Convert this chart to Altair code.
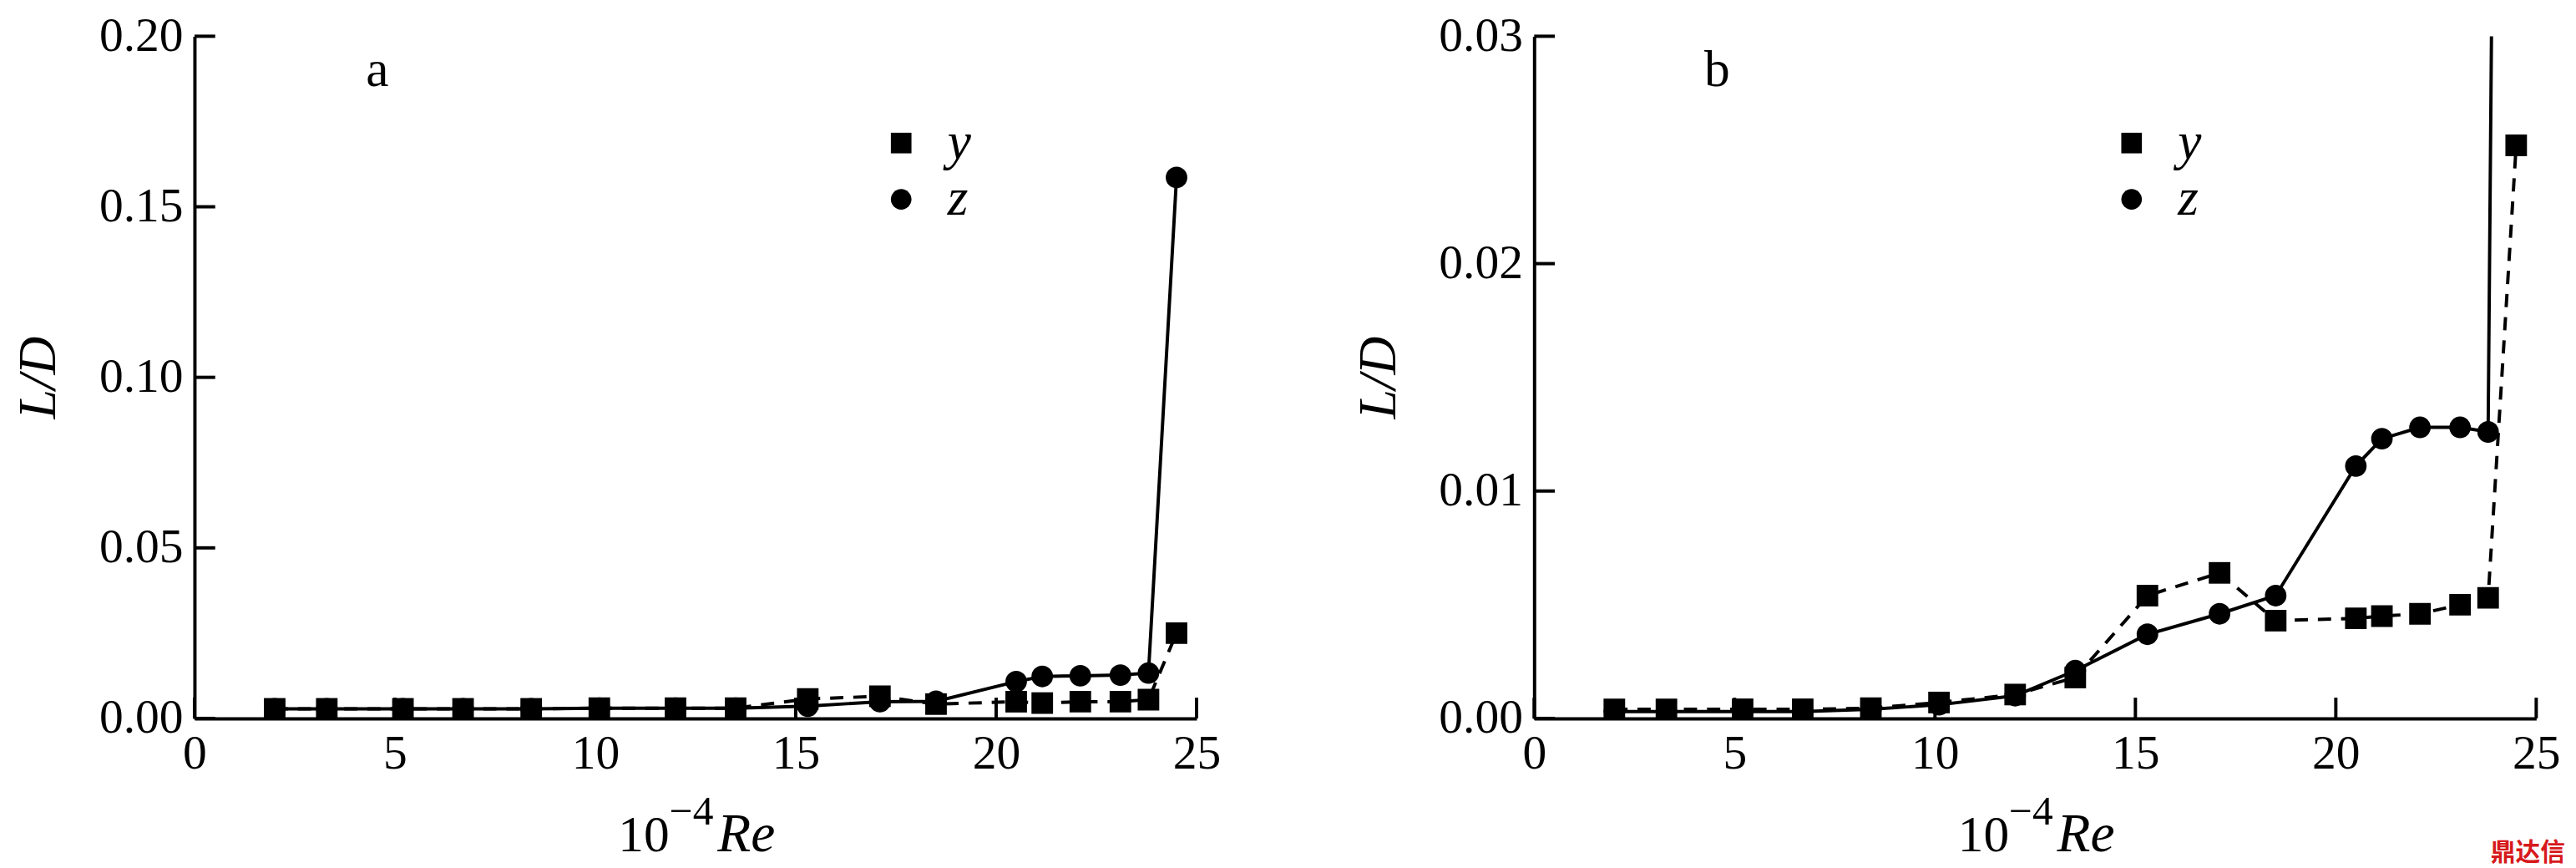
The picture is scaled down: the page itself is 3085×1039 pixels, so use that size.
import altair as alt
import pandas as pd

# ---- data ----
re_values = [2.0, 3.3, 5.2, 6.7, 8.4, 10.1, 12.0, 13.5, 15.3, 17.1, 18.5, 20.5, 21.15, 22.1, 23.1, 23.8, 24.5]

# panel a
a_y = [0.0028, 0.0028, 0.0028, 0.0028, 0.0028, 0.0030, 0.0030, 0.0030, 0.0057, 0.0065, 0.0042,
       0.0049, 0.0045, 0.0049, 0.0049, 0.0055, 0.0250]
a_z = [0.0028, 0.0028, 0.0028, 0.0028, 0.0028, 0.0030, 0.0030, 0.0030, 0.0036, 0.0049, 0.0050,
       0.0108, 0.0123, 0.0125, 0.0127, 0.0133, 0.1586]

# panel b
b_y = [0.0004, 0.0004, 0.0004, 0.0004, 0.00045, 0.0007, 0.00105, 0.0018, 0.0054, 0.0064, 0.0043,
       0.0044, 0.0045, 0.0046, 0.0050, 0.0053, 0.0252]
b_z = [0.0003, 0.0003, 0.0003, 0.0003, 0.0004, 0.0006, 0.0010, 0.0021, 0.0037, 0.0046, 0.0054,
       0.0111, 0.0123, 0.0128, 0.0128, 0.0126, 0.1586]

x_ticks = [0, 5, 10, 15, 20, 25]
a_ticks = [0.0, 0.05, 0.10, 0.15, 0.20]
b_ticks = [0.0, 0.01, 0.02, 0.03]
series_names = ["y", "z"]

FONT = "Liberation Serif"
W, H = 1211, 824


def panel(yv, zv, ymax, yticks, letter, legend_x):
    df = pd.DataFrame({
        "Re": re_values + re_values,
        "LD": yv + zv,
        "series": ["y"] * len(re_values) + ["z"] * len(re_values),
    })
    xs = alt.Scale(domain=[0, 25], nice=False, zero=True)
    ys = alt.Scale(domain=[0, ymax], nice=False, zero=True)

    xax = alt.Axis(values=x_ticks, format="d", labelFont=FONT, labelFontSize=58,
                   labelColor="black", domainColor="black", domainWidth=4, ticks=False,
                   labelPadding=14, grid=False, title=None, labelFlush=False)
    yax = alt.Axis(values=yticks, format=".2f", labelFont=FONT, labelFontSize=58,
                   labelColor="black", domainColor="black", domainWidth=4, ticks=False,
                   labelPadding=14, grid=False, title="L/D", titleFont=FONT,
                   titleFontSize=64, titleFontStyle="italic", titleFontWeight="normal",
                   titleColor="black", titlePadding=40, labelFlush=False)

    X = alt.X("Re:Q", scale=xs, axis=xax)
    Y = alt.Y("LD:Q", scale=ys, axis=yax)

    base = alt.Chart(df)
    line_y = base.transform_filter(alt.datum.series == "y").mark_line(
        color="black", strokeWidth=4, strokeDash=[16, 12], clip=True).encode(x=X, y=Y)
    line_z = base.transform_filter(alt.datum.series == "z").mark_line(
        color="black", strokeWidth=4, clip=True).encode(x=X, y=Y)
    points = base.mark_point(filled=True, color="black", opacity=1, clip=True,
                             size=680).encode(
        x=X, y=Y,
        shape=alt.Shape("series:N",
                        scale=alt.Scale(domain=series_names, range=["square", "circle"]),
                        legend=alt.Legend(orient="none", legendX=legend_x, legendY=97,
                                          title=None, padding=0, symbolSize=620,
                                          symbolFillColor="black", symbolStrokeColor="black",
                                          symbolStrokeWidth=0,
                                          labelFont=FONT, labelFontSize=64,
                                          labelFontStyle="italic", labelColor="black",
                                          labelOffset=24, rowPadding=4)),
    )

    xt = pd.DataFrame({"Re": x_ticks, "LD": [0.0] * len(x_ticks)})
    yt = pd.DataFrame({"Re": [0.0] * len(yticks), "LD": yticks})
    xtick_marks = alt.Chart(xt).mark_tick(orient="vertical", size=25, thickness=4,
                                          color="black", yOffset=-12.5, opacity=1).encode(
        x=X, y=Y)
    ytick_marks = alt.Chart(yt).mark_tick(orient="horizontal", size=25, thickness=4,
                                          color="black", xOffset=12.5, opacity=1).encode(
        x=X, y=Y)

    def txt(s, x, y, size, style="normal", align="left"):
        return alt.Chart(pd.DataFrame({"t": [s]})).mark_text(
            font=FONT, fontSize=size, fontStyle=style, align=align, baseline="alphabetic",
            color="black").encode(text="t:N", x=alt.value(x), y=alt.value(y))

    label = txt(letter, 221, 60, 62, align="center")
    t10 = txt("10", 512, 985, 62)
    tsup = txt("\u22124", 574, 952, 50)
    tre = txt("Re", 632, 985, 66, style="italic")

    return alt.layer(line_y, line_z, points, xtick_marks, ytick_marks,
                     label, t10, tsup, tre).properties(width=W, height=H)


pa = panel(a_y, a_z, 0.20, a_ticks, "a", 822)
pb = panel(b_y, b_z, 0.03, b_ticks, "b", 690)

wm = alt.Chart(pd.DataFrame({"t": ["鼎达信"]})).mark_text(
    font="Noto Sans CJK SC", fontSize=30, fontWeight="bold", color="#d7191c",
    align="left", baseline="alphabetic").encode(text="t:N", x=alt.value(1156), y=alt.value(996))
pb = alt.layer(pb, wm)

chart = alt.hconcat(pa, pb, spacing=159).properties(
    padding={"left": 7, "top": 2, "right": 5, "bottom": 0}
).configure_view(stroke=None).resolve_scale(shape="independent")

chart.save("out.html", embed_options={"renderer": "svg", "actions": False})
